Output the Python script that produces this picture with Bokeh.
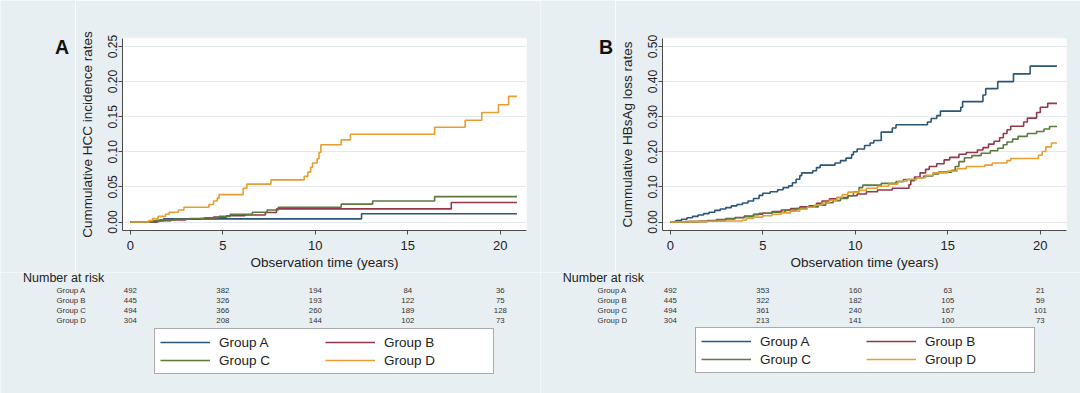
import numpy as np
from bokeh.plotting import figure
from bokeh.models import (Range1d, FixedTicker, PrintfTickFormatter, ColumnDataSource,
                          Legend, LegendItem)
from bokeh.layouts import row, column
from bokeh.embed import file_html
from bokeh.resources import INLINE
from bokeh.core.properties import value

# ---------------- data ----------------
groups = ["Group A", "Group B", "Group C", "Group D"]
colors = ["#2b5676", "#93384a", "#5b7a3c", "#e59e31"]
x_ticks = [0, 5, 10, 15, 20]
risk_times = [0, 5, 10, 15, 20]
hcc_ticks = [0.0, 0.05, 0.10, 0.15, 0.20, 0.25]
hbs_ticks = [0.0, 0.10, 0.20, 0.30, 0.40, 0.50]

# Panel A: cumulative HCC incidence (step curves)
hcc_t_a = [0, 1.4, 1.8, 12.5, 20.9]
hcc_v_a = [0, 0.002, 0.0045, 0.0117, 0.0117]
hcc_t_b = [0, 1.5, 2.2, 3.0, 3.8, 4.5, 5.2, 6.2, 7.3, 7.9, 17.35, 20.9]
hcc_v_b = [0, 0.002, 0.003, 0.004, 0.005, 0.007, 0.009, 0.010, 0.0135, 0.0187, 0.0278, 0.0278]
hcc_t_c = [0, 1.2, 1.6, 2.4, 3.2, 4.0, 4.8, 5.4, 6.6, 7.4, 8.0, 11.4, 13.1, 16.45, 20.9]
hcc_v_c = [0, 0.002, 0.003, 0.004, 0.005, 0.006, 0.008, 0.011, 0.014, 0.017, 0.021, 0.0255, 0.030, 0.0362, 0.0362]
hcc_t_d = [0, 1.0, 1.2, 1.5, 1.9, 2.1, 2.6, 2.9, 4.25, 4.5, 4.7, 4.8, 6.1, 6.3, 7.6, 9.4, 9.6,
           9.75, 9.85, 10.1, 10.2, 10.3, 11.4, 11.9, 16.45, 18.1, 19.0, 19.9, 20.45, 20.9]
hcc_v_d = [0, 0.002, 0.005, 0.008, 0.011, 0.014, 0.017, 0.021, 0.025, 0.030, 0.034, 0.039, 0.048,
           0.054, 0.060, 0.065, 0.071, 0.078, 0.084, 0.090, 0.099, 0.110, 0.117, 0.125, 0.135,
           0.145, 0.156, 0.167, 0.179, 0.179]

# Panel B: cumulative HBsAg loss (step curves)
hbs_t_a = [0, 0.3, 0.6, 0.9, 1.2, 1.5, 1.8, 2.1, 2.4, 2.7, 3.0, 3.3, 3.6, 3.9, 4.2, 4.5, 4.8, 5.0,
           5.4, 5.8, 6.1, 6.4, 6.6, 6.8, 7.0, 7.1, 7.7, 7.9, 8.1, 8.9, 9.2, 9.5, 9.8, 9.9, 10.1,
           10.5, 10.8, 11.0, 11.4, 12.0, 12.2, 13.9, 14.1, 14.4, 14.6, 15.7, 15.8, 16.9, 17.05,
           17.7, 18.55, 19.45, 20.9]
hbs_v_a = [0, 0.004, 0.008, 0.012, 0.016, 0.020, 0.024, 0.028, 0.033, 0.037, 0.041, 0.046, 0.050,
           0.054, 0.060, 0.067, 0.076, 0.082, 0.086, 0.092, 0.098, 0.103, 0.112, 0.122, 0.132,
           0.140, 0.146, 0.155, 0.162, 0.168, 0.175, 0.182, 0.192, 0.200, 0.208, 0.218, 0.225,
           0.232, 0.256, 0.268, 0.277, 0.285, 0.295, 0.303, 0.316, 0.327, 0.343, 0.362, 0.380,
           0.400, 0.422, 0.444, 0.444]
hbs_t_b = [0, 0.8, 1.5, 2.0, 2.5, 3.0, 3.5, 4.0, 4.5, 5.0, 5.5, 6.0, 6.5, 7.0, 7.5, 7.9, 8.2, 8.6,
           9.0, 9.6, 10.1, 10.6, 11.2, 12.0, 12.9, 13.0, 13.2, 13.5, 13.8, 14.0, 14.4, 14.8, 15.1,
           15.6, 16.0, 16.6, 16.9, 17.2, 17.5, 17.8, 18.0, 18.2, 18.4, 19.1, 19.3, 19.8, 20.0,
           20.4, 20.9]
hbs_v_b = [0, 0.001, 0.002, 0.004, 0.007, 0.010, 0.013, 0.017, 0.022, 0.025, 0.030, 0.034, 0.038,
           0.043, 0.046, 0.053, 0.060, 0.066, 0.070, 0.075, 0.080, 0.086, 0.091, 0.096, 0.106,
           0.118, 0.128, 0.140, 0.150, 0.158, 0.166, 0.177, 0.184, 0.193, 0.198, 0.205, 0.212,
           0.222, 0.230, 0.240, 0.252, 0.263, 0.273, 0.285, 0.296, 0.312, 0.327, 0.338, 0.338]
hbs_t_c = [0, 1.0, 2.0, 2.5, 3.0, 3.5, 4.0, 4.5, 4.8, 5.5, 6.2, 6.8, 7.4, 8.0, 8.4, 8.8, 9.2, 9.6,
           9.9, 10.2, 10.4, 11.4, 12.2, 12.6, 13.3, 13.7, 14.2, 14.5, 15.2, 15.4, 15.6, 15.9, 16.3,
           16.8, 17.3, 17.7, 18.0, 18.2, 18.5, 18.8, 19.3, 19.8, 20.2, 20.5, 20.9]
hbs_v_c = [0, 0.001, 0.003, 0.006, 0.009, 0.012, 0.015, 0.021, 0.025, 0.028, 0.033, 0.038, 0.043,
           0.048, 0.055, 0.061, 0.067, 0.075, 0.086, 0.098, 0.105, 0.110, 0.115, 0.121, 0.126,
           0.131, 0.137, 0.142, 0.147, 0.158, 0.172, 0.183, 0.189, 0.196, 0.203, 0.210, 0.220,
           0.228, 0.236, 0.244, 0.252, 0.258, 0.265, 0.272, 0.272]
hbs_t_d = [0, 1.0, 2.0, 3.0, 3.9, 4.1, 4.5, 5.0, 5.5, 6.0, 6.5, 7.0, 7.4, 7.8, 8.2, 8.6, 9.0, 9.3,
           9.6, 10.2, 10.6, 11.2, 11.8, 12.3, 12.8, 13.3, 13.8, 14.2, 15.0, 15.5, 16.0, 17.0, 17.4,
           18.2, 18.4, 19.9, 20.1, 20.3, 20.6, 20.9]
hbs_v_d = [0, 0.001, 0.002, 0.003, 0.005, 0.010, 0.014, 0.018, 0.022, 0.026, 0.031, 0.037, 0.042,
           0.048, 0.054, 0.062, 0.070, 0.078, 0.085, 0.090, 0.096, 0.102, 0.108, 0.116, 0.121,
           0.126, 0.133, 0.140, 0.145, 0.152, 0.158, 0.162, 0.168, 0.175, 0.181, 0.190, 0.201,
           0.214, 0.225, 0.225]

# Numbers at risk
risk_hcc_a = [492, 382, 194, 84, 36]
risk_hcc_b = [445, 326, 193, 122, 75]
risk_hcc_c = [494, 366, 260, 189, 128]
risk_hcc_d = [304, 208, 144, 102, 73]
risk_hbs_a = [492, 353, 160, 63, 21]
risk_hbs_b = [445, 322, 182, 105, 59]
risk_hbs_c = [494, 361, 240, 167, 101]
risk_hbs_d = [304, 213, 141, 100, 73]

# ---------------- styling ----------------
BG = "#e8eff2"
FONT = "Liberation Sans"
TXT = "#222222"
AX = "#4a4a4a"
PANEL_W = 540
LETTER_W = 75
TOP_H = 272
BOT_H = 121


def base_fig(**kw):
    f = figure(output_backend="svg", toolbar_location=None, **kw)
    f.frame_align = False
    return f


def make_panel(letter, ylabel, curves, yticks, yrange, risks, letter_x,
               group_x, nrisk_x, legend_loc):
    # panel letter strip
    a = base_fig(width=LETTER_W, height=TOP_H, x_range=Range1d(0, LETTER_W),
                 y_range=Range1d(TOP_H, 0), min_border=0,
                 x_axis_location=None, y_axis_location=None,
                 background_fill_color=BG, border_fill_color=BG, outline_line_color=None)
    a.grid.visible = False
    a.text(x=[letter_x], y=[46], text=[letter], text_font=value(FONT),
           text_font_size="19.5px", text_font_style="bold", text_color="#111111",
           text_align="left", text_baseline="middle")

    # main plot
    p = base_fig(width=PANEL_W - LETTER_W, height=TOP_H,
                 x_range=Range1d(-0.4216, 21.416), y_range=Range1d(*yrange),
                 min_border_left=47, min_border_right=14,
                 min_border_top=38, min_border_bottom=42,
                 background_fill_color="white", border_fill_color=BG, outline_line_color=None)
    for (t, v), c in zip(curves, colors):
        p.step(x=t, y=v, mode="after", line_color=c, line_width=1.6)

    p.xaxis.ticker = FixedTicker(ticks=x_ticks)
    p.yaxis.ticker = FixedTicker(ticks=yticks)
    p.ygrid.ticker = FixedTicker(ticks=yticks)
    p.yaxis.formatter = PrintfTickFormatter(format="%.2f")
    p.xgrid.visible = False
    p.ygrid.grid_line_color = "#e3e8ea"
    p.ygrid.grid_line_width = 1
    p.axis.axis_line_color = AX
    p.axis.major_tick_line_color = AX
    p.axis.minor_tick_line_color = None
    p.axis.major_tick_out = 4
    p.axis.major_tick_in = 0
    p.axis.major_label_text_font = FONT
    p.axis.major_label_text_color = TXT
    p.axis.axis_label_text_font = FONT
    p.axis.axis_label_text_color = TXT
    p.axis.axis_label_text_font_style = "normal"
    p.axis.axis_label_text_font_size = "13.5px"
    p.xaxis.major_label_text_font_size = "13px"
    p.yaxis.major_label_text_font_size = "12px"
    p.yaxis.major_label_orientation = "vertical"
    p.xaxis.axis_label = "Observation time (years)"
    p.yaxis.axis_label = ylabel
    p.xaxis.major_label_standoff = 6
    p.xaxis.axis_label_standoff = 2
    p.yaxis.major_label_standoff = 1
    p.yaxis.axis_label_standoff = 11

    # number-at-risk table and legend
    b = base_fig(width=PANEL_W, height=BOT_H, x_range=Range1d(-7.016, 22.173),
                 y_range=Range1d(10.3, -1.8), min_border=0,
                 x_axis_location=None, y_axis_location=None,
                 background_fill_color=BG, border_fill_color=BG, outline_line_color=None)
    b.grid.visible = False

    xs, ys, txt = [], [], []
    for i, counts in enumerate(risks):
        for t, n in zip(risk_times, counts):
            xs.append(t)
            ys.append(i)
            txt.append(str(n))
    b.text(x="x", y="y", text="text", source=ColumnDataSource(dict(x=xs, y=ys, text=txt)),
           text_align="center", text_baseline="middle", text_font=value(FONT),
           text_font_size="7.8px", text_color="#333333")
    b.text(x=[group_x] * len(groups), y=list(range(len(groups))), text=groups,
           text_align="left", text_baseline="middle", text_font=value(FONT),
           text_font_size="7.8px", text_color="#333333")
    b.text(x=[nrisk_x], y=[-1.23], text=["Number at risk"], text_align="left",
           text_baseline="middle", text_font=value(FONT), text_font_size="12.5px",
           text_color=TXT)

    items = []
    for g, c in zip(groups, colors):
        r = b.line(x=np.array([np.nan, np.nan]), y=np.array([np.nan, np.nan]),
                   line_color=c, line_width=1.5)
        items.append(LegendItem(label=g, renderers=[r]))
    leg = Legend(items=items, location=legend_loc, orientation="horizontal", ncols=2,
                 border_line_color="#555555", border_line_width=1,
                 background_fill_color="white", background_fill_alpha=1.0,
                 label_text_font=FONT, label_text_font_size="13.5px", label_text_color=TXT,
                 glyph_width=50, glyph_height=16, label_height=16, label_width=104,
                 label_standoff=9, spacing=2, padding=5, margin=0)
    b.add_layout(leg)
    return column(row(a, p, spacing=0), b, spacing=0)


panel_a = make_panel(
    "A", "Cummulative HCC incidence rates",
    [(hcc_t_a, hcc_v_a), (hcc_t_b, hcc_v_b), (hcc_t_c, hcc_v_c), (hcc_t_d, hcc_v_d)],
    hcc_ticks, (-0.0121, 0.2614),
    [risk_hcc_a, risk_hcc_b, risk_hcc_c, risk_hcc_d],
    letter_x=54.4, group_x=-3.99, nrisk_x=-5.8, legend_loc=(154, 19))

panel_b = make_panel(
    "B", "Cummulative HBsAg loss rates",
    [(hbs_t_a, hbs_v_a), (hbs_t_b, hbs_v_b), (hbs_t_c, hbs_v_c), (hbs_t_d, hbs_v_d)],
    hbs_ticks, (-0.0242, 0.5228),
    [risk_hbs_a, risk_hbs_b, risk_hbs_c, risk_hbs_d],
    letter_x=58.5, group_x=-3.93, nrisk_x=-5.81, legend_loc=(155, 20))

layout = row(panel_a, panel_b, spacing=0)

open("out.html", "w").write(file_html(layout, INLINE))
